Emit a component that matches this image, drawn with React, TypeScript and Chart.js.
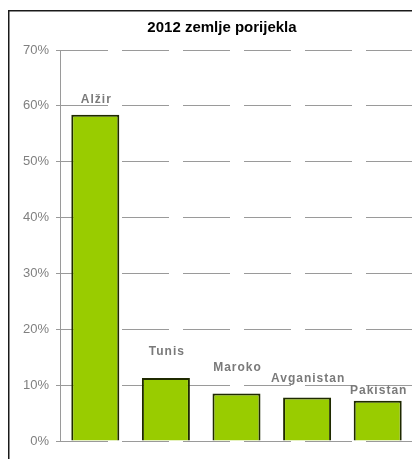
import React, { useEffect, useRef } from "react";
import { Chart, registerables } from "chart.js";

Chart.register(...registerables);

const TITLE = "2012 zemlje porijekla";
const CATEGORIES = ["Alžir", "Tunis", "Maroko", "Avganistan", "Pakistan"];
const SHARES = [58.4, 11.3, 8.5, 7.8, 7.2];
const Y_MIN = 0;
const Y_MAX = 70;
const Y_STEP = 10;

// label lift above each bar (px) – style only
const LABEL_LIFT = [15, 26, 26, 19, 10];

const framePlugin = {
  id: "frame",
  beforeDraw(chart: any) {
    const { ctx, width, height } = chart;
    ctx.save();
    ctx.fillStyle = "#ffffff";
    ctx.fillRect(0, 0, width, height);
    ctx.fillStyle = "#1a1a1a";
    ctx.fillRect(0, 2, 1.5, height);
    ctx.fillRect(0, 2, width, 1.5);
    ctx.restore();
  },
  afterDraw(chart: any) {
    const { ctx } = chart;
    ctx.save();
    ctx.fillStyle = "#000000";
    ctx.font = "bold 15px Arial, 'Liberation Sans', sans-serif";
    ctx.textAlign = "center";
    ctx.textBaseline = "alphabetic";
    ctx.fillText(TITLE, 214, 24);

    const meta = chart.getDatasetMeta(0);
    ctx.fillStyle = "#7a7a7a";
    ctx.font = "bold 12px Arial, 'Liberation Sans', sans-serif";
    (ctx as any).letterSpacing = "1px";
    ctx.textBaseline = "middle";
    meta.data.forEach((bar: any, i: number) => {
      ctx.fillText(CATEGORIES[i], bar.x + 1, bar.y - LABEL_LIFT[i]);
    });
    ctx.restore();
  },
};

export default function App() {
  const ref = useRef<HTMLCanvasElement | null>(null);

  useEffect(() => {
    if (!ref.current) return;
    const chart = new Chart(ref.current, {
      type: "bar",
      data: {
        labels: CATEGORIES,
        datasets: [
          {
            data: SHARES,
            backgroundColor: "#99cc00",
            borderColor: "#1f2a00",
            borderWidth: 2,
            categoryPercentage: 1,
            barPercentage: 0.68,
          },
        ],
      },
      options: {
        animation: false,
        responsive: true,
        maintainAspectRatio: false,
        layout: { padding: { top: 42, right: 7, bottom: 18, left: 0 } },
        plugins: {
          legend: { display: false },
          title: { display: false },
          tooltip: { enabled: false },
        },
        scales: {
          x: { display: false },
          y: {
            min: Y_MIN,
            max: Y_MAX,
            afterFit(scale: any) {
              scale.width = 52;
            },
            ticks: {
              stepSize: Y_STEP,
              padding: 7,
              color: "#808080",
              font: { family: "Arial, 'Liberation Sans', sans-serif", size: 13 },
              callback: (v: any) => v + "%",
            },
            grid: {
              color: "#9a9a9a",
              lineWidth: 1,
              tickLength: 4,
              drawTicks: true,
              tickColor: "#9a9a9a",
            },
            border: { display: true, color: "#9a9a9a", width: 1, dash: [47, 14] },
          },
        },
      },
      plugins: [framePlugin],
    });
    return () => chart.destroy();
  }, []);

  return (
    <div style={{ width: 412, height: 451, position: "relative" }}>
      <canvas ref={ref} />
    </div>
  );
}
